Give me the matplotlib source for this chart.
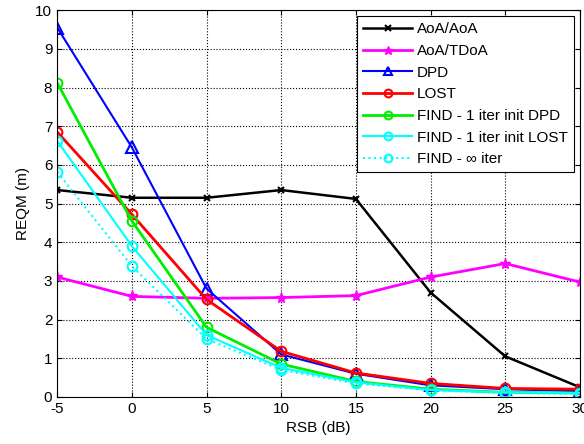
import matplotlib
matplotlib.use("Agg")
import matplotlib.pyplot as plt

plt.rcParams['font.family'] = ['Liberation Sans', 'DejaVu Sans']
plt.rcParams['axes.unicode_minus'] = False

rsb = [-5, 0, 5, 10, 15, 20, 25, 30]
aoa_aoa = [5.35, 5.15, 5.15, 5.35, 5.12, 2.7, 1.05, 0.25]
aoa_tdoa = [3.1, 2.6, 2.55, 2.57, 2.62, 3.1, 3.45, 2.97]
dpd = [9.55, 6.45, 2.8, 1.1, 0.6, 0.3, 0.2, 0.15]
lost = [6.85, 4.72, 2.52, 1.18, 0.62, 0.35, 0.22, 0.2]
find_dpd = [8.12, 4.55, 1.8, 0.85, 0.4, 0.2, 0.12, 0.1]
find_lost = [6.62, 3.9, 1.6, 0.75, 0.38, 0.18, 0.12, 0.1]
find_inf = [5.82, 3.38, 1.5, 0.7, 0.35, 0.17, 0.1, 0.08]

fig = plt.figure(figsize=(5.84, 4.44), dpi=100)
ax = fig.add_axes([0.098, 0.106, 0.895, 0.871])

ax.plot(rsb, aoa_aoa, 'k-x', lw=1.8, ms=5, mew=1.5, label='AoA/AoA')
ax.plot(rsb, aoa_tdoa, '-*', color='#ff00ff', lw=2, ms=8, label='AoA/TDoA')
ax.plot(rsb, dpd, '-^', color='#0000ff', lw=1.5, ms=8, mfc='none', mew=1.5, label='DPD')
ax.plot(rsb, lost, '-o', color='#ff0000', lw=2, ms=7, mfc='none', mew=1.5, label='LOST')
ax.plot(rsb, find_dpd, '-o', color='#00ee00', lw=2, ms=7, mfc='none', mew=1.5, label='FIND - 1 iter init DPD')
ax.plot(rsb, find_lost, '-o', color='#00ffff', lw=1.5, ms=7, mfc='none', mew=1.5, label='FIND - 1 iter init LOST')
ax.plot(rsb, find_inf, ':o', color='#00ffff', lw=1.5, ms=7, mfc='none', mew=1.5, label='FIND - \u221e iter')

ax.set_xlim(-5, 30)
ax.set_ylim(0, 10)
ax.set_xticks(rsb)
ax.set_yticks(range(11))
ax.set_xlabel('RSB (dB)', fontsize=11)
ax.set_ylabel('REQM (m)', fontsize=11)
ax.tick_params(direction='in', top=True, right=True, labelsize=11)
ax.grid(True, color='k', linestyle=':', linewidth=0.8)

leg = ax.legend(loc='upper right', fontsize=11, frameon=True, fancybox=False,
                edgecolor='k', framealpha=1, handlelength=3.2, borderpad=0.4,
                labelspacing=0.5, handletextpad=0.3, borderaxespad=0.4,
                markerscale=0.8)
leg.get_frame().set_linewidth(0.8)

fig.savefig('out.png', dpi=100)
